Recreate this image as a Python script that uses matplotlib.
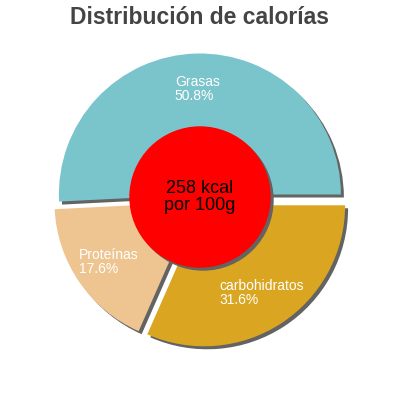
import matplotlib
matplotlib.use("Agg")
import numpy as np
import matplotlib.pyplot as plt
from matplotlib.patches import Circle

# datos
nutrientes = ["Grasas", "Proteínas", "carbohidratos"]
porcentajes = [50.8, 17.6, 31.6]
colores = ["#7ac4cc", "#eec591", "#daa520"]
kcal = 258

plt.rcParams['font.family'] = ['Liberation Sans', 'DejaVu Sans']

fig = plt.figure(figsize=(4, 4), dpi=100)
ax = fig.add_axes([0, 0, 1, 1])

cx, cy, r = 200, 201, 141
separacion = [4.5, 5.5, 7.5]   # en pixeles (pie no escala por el radio)
sombra = "#636363"

# sombras
ax.pie(porcentajes, explode=separacion, colors=[sombra] * 3, radius=r,
       center=(cx + 3, cy - 3), startangle=0, counterclock=True, frame=True)
# pie
wedges, _ = ax.pie(porcentajes, explode=separacion, colors=colores, radius=r,
                   center=(cx, cy), startangle=0, counterclock=True, frame=True)
ax.set_xlim(0, 400)
ax.set_ylim(0, 400)
ax.set_aspect('equal')
ax.axis('off')

for w, nom, p in zip(wedges, nutrientes, porcentajes):
    mid = np.deg2rad((w.theta1 + w.theta2) / 2)
    x = w.center[0] + 0.745 * r * np.cos(mid)
    y = w.center[1] + 0.745 * r * np.sin(mid)
    ax.text(x, y, f"{nom}\n{p}%", color="white", fontsize=10,
            ha="center", va="center", multialignment="left", linespacing=1.0)

# circulo central
ax.add_patch(Circle((cx + 3, cy + 2 - 3), 70, color=sombra, zorder=3))
ax.add_patch(Circle((cx, cy + 2), 70, color="#ff0000", zorder=4))
ax.text(cx, cy + 2, f"{kcal} kcal\npor 100g", color="black", fontsize=13,
        ha="center", va="center", linespacing=1.0, zorder=5)

fig.text(0.5, 0.955, "Distribución de calorías", ha="center", va="center",
         fontsize=16.5, fontweight="bold", color="#444444")

fig.savefig("out.png", dpi=100)
